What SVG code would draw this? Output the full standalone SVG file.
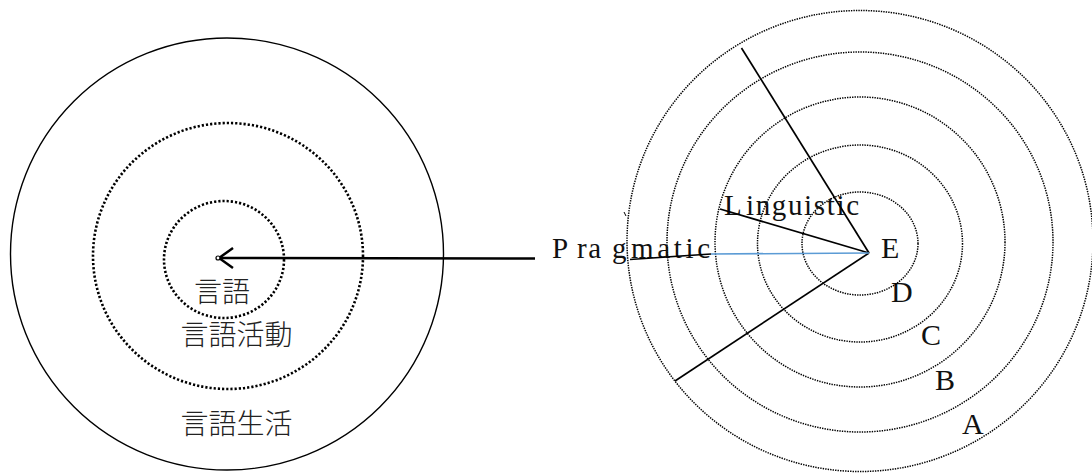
<svg xmlns="http://www.w3.org/2000/svg" width="1092" height="473" viewBox="0 0 1092 473">
<style>
.solid{fill:none;stroke:#000;stroke-width:1.4}
.dotL{fill:none;stroke:#000;stroke-width:2.6;stroke-dasharray:2.2 2}
.dotR{fill:none;stroke:#000;stroke-width:1.5;stroke-dasharray:1.4 1.1}
.ln{fill:none;stroke:#000;stroke-width:1.7}
.jp{font-family:"Noto Sans CJK JP","Noto Sans CJK SC",sans-serif;font-size:28px;font-weight:300;fill:#222;text-anchor:middle}
.lat{font-family:"Liberation Serif","DejaVu Serif",serif;font-size:29px;fill:#111}
.big{font-family:"Liberation Serif","DejaVu Serif",serif;font-size:30px;fill:#111}
</style>
<defs>
<marker id="openArrow" markerWidth="16" markerHeight="24" refX="15" refY="12" orient="auto" markerUnits="userSpaceOnUse">
<path d="M1,2 L15,12 L1,22" fill="none" stroke="#000" stroke-width="2.5"/>
</marker>
</defs>
<g id="left-diagram">
<g id="node-gengo-seikatsu">
<ellipse class="solid" cx="227" cy="254" rx="216.5" ry="216"/>
<text class="jp" x="236.5" y="434">言語生活</text>
</g>
<g id="node-gengo-katsudo">
<ellipse class="dotL" cx="228" cy="256" rx="135" ry="133"/>
<text class="jp" x="236.5" y="345">言語活動</text>
</g>
<g id="node-gengo">
<ellipse class="dotL" cx="224" cy="259.5" rx="60" ry="58.5"/>
<text class="jp" x="222" y="302">言語</text>
</g>
</g>
<g id="right-diagram">
<g id="ring-A"><ellipse class="dotR" cx="860" cy="241" rx="233" ry="230.5"/><text class="big" x="962" y="434">A</text></g>
<g id="ring-B"><ellipse class="dotR" cx="860" cy="242" rx="193" ry="190"/><text class="big" x="935" y="390">B</text></g>
<g id="ring-C"><ellipse class="dotR" cx="860" cy="242" rx="145" ry="145"/><text class="big" x="921" y="345">C</text></g>
<g id="ring-D"><ellipse class="dotR" cx="860" cy="243.5" rx="102.5" ry="98.5"/><text class="big" x="891" y="302">D</text></g>
<g id="ring-E"><ellipse class="dotR" cx="860" cy="243.5" rx="58" ry="51.5"/><text class="big" x="881" y="258">E</text></g>
<g id="label-linguistic">
<text class="lat" y="215"><tspan x="724">L</tspan> <tspan x="746" textLength="113" lengthAdjust="spacing">inguistic</tspan></text>
</g>
<g id="label-pragmatic">
<text class="lat" y="258"><tspan x="552">P</tspan> <tspan x="577" textLength="24" lengthAdjust="spacing">ra</tspan> <tspan x="612">g</tspan> <tspan x="631" textLength="79" lengthAdjust="spacing">matic</tspan></text>
</g>
</g>
<g id="connectors">
<line x1="535" y1="258.5" x2="219" y2="258" stroke="#000" stroke-width="2.6" marker-end="url(#openArrow)"/>
<circle cx="218" cy="258" r="2" fill="#fff" stroke="#000" stroke-width="1.2"/>
<line class="ln" x1="869" y1="253" x2="741.5" y2="48"/>
<line class="ln" x1="869" y1="253" x2="720" y2="209"/>
<line class="ln" x1="869" y1="253" x2="675" y2="381"/>
<line x1="869" y1="253" x2="711" y2="254" stroke="#5b9bd5" stroke-width="1.6"/>
<line class="ln" x1="711" y1="254" x2="630" y2="259.5"/>
<path d="M624,212 L626,216" stroke="#000" stroke-width="1" fill="none"/>
</g>
</svg>
